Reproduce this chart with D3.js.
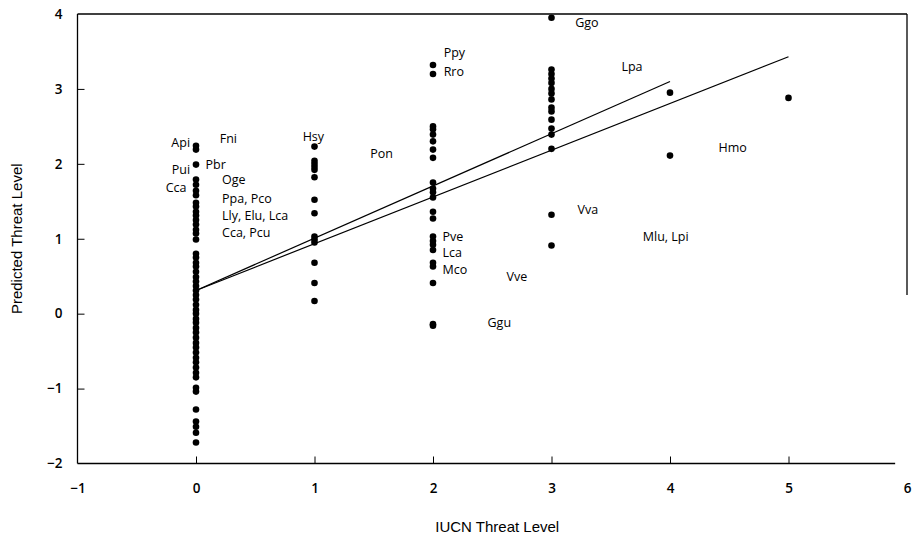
<!DOCTYPE html>
<html>
<head>
<meta charset="utf-8">
<script src="https://cdn.jsdelivr.net/npm/d3@7"></script>
<style>
    body { margin: 0; background: #fff; }
    .tick text { font-family: "Open Sans", sans-serif; font-size: 13.5px; font-weight: 600; fill: #000; }
    .tick line { stroke: #000; stroke-width: 1; }
    .label { font-family: "Open Sans", sans-serif; font-size: 12.5px; fill: #000; }
    .title { font-family: "Liberation Sans", Arial, sans-serif; font-size: 15px; fill: #000; }
</style>
</head>
<body>
<script>
// IUCN threat level of each group of points
let levels = [0, 1, 2, 3, 4, 5];

// predicted threat level, one array per IUCN level
let predicted0 = [2.24, 2.19, 1.99, 1.79, 1.72, 1.64, 1.58, 1.48, 1.43, 1.36, 1.31, 1.25, 1.19, 1.12, 1.07, 0.99,
    0.80, 0.75, 0.68, 0.63, 0.56, 0.49, 0.43, 0.37, 0.31, 0.25, 0.19, 0.12, 0.05, 0.00, -0.07, -0.12, -0.19,
    -0.25, -0.32, -0.39, -0.45, -0.52, -0.59, -0.65, -0.72, -0.79, -0.85, -0.99, -1.04, -1.28, -1.44, -1.51,
    -1.59, -1.72];
let predicted1 = [2.23, 2.04, 2.00, 1.96, 1.92, 1.82, 1.52, 1.34, 1.03, 0.99, 0.95, 0.68, 0.41, 0.17];
let predicted2 = [3.32, 3.20, 2.50, 2.46, 2.39, 2.30, 2.19, 2.08, 1.75, 1.67, 1.62, 1.55, 1.36, 1.27, 1.03, 0.97,
    0.92, 0.85, 0.68, 0.63, 0.41, -0.14, -0.16];
let predicted3 = [3.95, 3.26, 3.20, 3.14, 3.08, 3.00, 2.94, 2.86, 2.75, 2.70, 2.59, 2.47, 2.39, 2.20, 1.32, 0.91];
let predicted4 = [2.95, 2.11];
let predicted5 = [2.88];

// two fitted lines (endpoints)
let fitA = [[0, 0.31], [4, 3.10]];
let fitB = [[0, 0.31], [5, 3.43]];

// species labels: name, x, y (data units)
let labelNames = ["Api", "Fni", "Hsy", "Pui", "Pbr", "Cca", "Oge", "Ppa, Pco", "Lly, Elu, Lca", "Cca, Pcu",
    "Pon", "Ppy", "Rro", "Pve", "Lca", "Mco", "Vve", "Ggu", "Ggo", "Lpa", "Vva", "Mlu, Lpi", "Hmo"];
let labelX = [-0.05, 0.20, 0.90, -0.05, 0.08, -0.08, 0.22, 0.22, 0.22, 0.22,
    1.47, 2.09, 2.09, 2.08, 2.08, 2.08, 2.62, 2.46, 3.20, 3.59, 3.22, 3.77, 4.41];
let labelY = [2.28, 2.34, 2.36, 1.92, 1.99, 1.68, 1.79, 1.53, 1.31, 1.08,
    2.14, 3.48, 3.23, 1.03, 0.81, 0.59, 0.49, -0.12, 3.89, 3.30, 1.39, 1.03, 2.22];
let labelEnd = ["Api", "Pui", "Cca"];

let xTicks = [-1, 0, 1, 2, 3, 4, 5, 6];
let yTicks = [-2, -1, 0, 1, 2, 3, 4];

window.onload = function() {
    let w = 923,
        h = 542;

    let svg = d3.select("body")
        .append("svg")
        .attr("width", w)
        .attr("height", h);

    let x = d3.scaleLinear()
        .domain([-1, 6])
        .range([77.5, 907]);

    let y = d3.scaleLinear()
        .domain([-2, 4])
        .range([463.5, 14]);

    let minus = function(d) {
        return d < 0 ? "\u2212" + Math.abs(d) : d;
    };

    // build the points from the per-level arrays
    let groups = [predicted0, predicted1, predicted2, predicted3, predicted4, predicted5];
    let points = [];
    groups.forEach(function(arr, i) {
        arr.forEach(function(v) {
            points.push({ level: levels[i], value: v });
        });
    });

    // y axis, ticks pointing inward
    svg.append("g")
        .attr("class", "axis")
        .attr("transform", "translate(" + x(-1) + ",0)")
        .call(d3.axisLeft(y).tickValues(yTicks).tickSizeInner(-7).tickSizeOuter(0).tickPadding(15)
            .tickFormat(minus))
        .call(function(g) {
            g.select(".domain").remove();
            g.selectAll(".tick line").filter(function(d) { return d === -2 || d === 4; }).remove();
        });

    // x axis, ticks pointing up
    svg.append("g")
        .attr("class", "axis")
        .attr("transform", "translate(0," + y(-2) + ")")
        .call(d3.axisBottom(x).tickValues(xTicks).tickSizeInner(-7).tickSizeOuter(0).tickPadding(20)
            .tickFormat(minus))
        .call(function(g) {
            g.select(".domain").remove();
            g.selectAll(".tick line").filter(function(d) { return d === -1 || d === 6; }).remove();
        });

    // frame
    let frame = svg.append("g")
        .attr("stroke", "#000")
        .attr("stroke-width", 1.3)
        .attr("fill", "none");
    frame.append("line")
        .attr("x1", x(-1)).attr("x2", x(-1))
        .attr("y1", y(4)).attr("y2", y(-2));
    frame.append("line")
        .attr("x1", x(-1)).attr("x2", x(5.9))
        .attr("y1", y(-2)).attr("y2", y(-2));
    frame.append("line")
        .attr("x1", x(-1)).attr("x2", x(6))
        .attr("y1", y(4)).attr("y2", y(4));
    frame.append("line")
        .attr("x1", x(6)).attr("x2", x(6))
        .attr("y1", y(4)).attr("y2", y(0.25));

    // fitted lines
    let line = d3.line()
        .x(function(d) { return x(d[0]); })
        .y(function(d) { return y(d[1]); });

    svg.selectAll(".fit")
        .data([fitA, fitB])
        .enter()
        .append("path")
        .attr("class", "fit")
        .attr("d", line)
        .attr("fill", "none")
        .attr("stroke", "#000")
        .attr("stroke-width", 1.2);

    // points
    svg.selectAll(".dot")
        .data(points)
        .enter()
        .append("circle")
        .attr("class", "dot")
        .attr("cx", function(d) { return x(d.level); })
        .attr("cy", function(d) { return y(d.value); })
        .attr("r", 3.3)
        .style("fill", "#000");

    // species labels
    svg.selectAll(".label")
        .data(labelNames)
        .enter()
        .append("text")
        .attr("class", "label")
        .attr("x", function(d, i) { return x(labelX[i]); })
        .attr("y", function(d, i) { return y(labelY[i]); })
        .attr("dy", "0.35em")
        .attr("text-anchor", function(d) { return labelEnd.indexOf(d) >= 0 ? "end" : "start"; })
        .text(function(d) { return d; });

    // axis titles
    svg.append("text")
        .attr("class", "title")
        .attr("text-anchor", "middle")
        .attr("transform", "translate(22," + y(1) + ") rotate(-90)")
        .text("Predicted Threat Level");

    svg.append("text")
        .attr("class", "title")
        .attr("text-anchor", "middle")
        .attr("x", (x(-1) + x(6)) / 2 + 5)
        .attr("y", 532)
        .text("IUCN Threat Level");
};
</script>
</body>
</html>
